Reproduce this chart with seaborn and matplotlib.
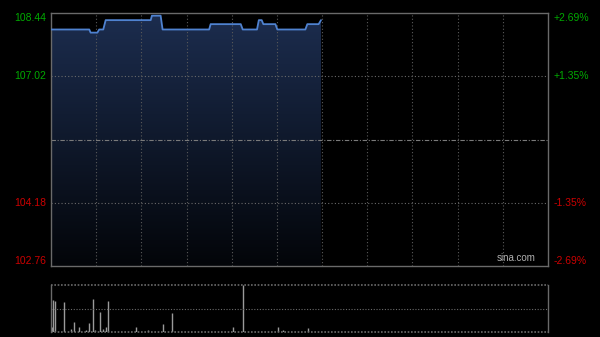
import numpy as np
import pandas as pd
import matplotlib
matplotlib.use("Agg")
import matplotlib.pyplot as plt
import seaborn as sns
from matplotlib.colors import LinearSegmentedColormap

# ---- data ----
prev_close = 105.60
y_ticks = [102.76, 104.18, 107.02, 108.44]
y_labels = ["102.76", "104.18", "107.02", "108.44"]
pct_labels = ["-2.69%", "-1.35%", "+1.35%", "+2.69%"]
tick_colors = ["#cc0000", "#cc0000", "#00aa00", "#00aa00"]

price_t = [0, 25.4, 26.3, 30.8, 32, 34.7, 36.3, 66.2, 67, 72.8, 74.1, 105, 106, 126,
           127.3, 136.8, 138, 139.9, 141, 149, 150.3, 168.9, 170.2, 177.7, 179.3]
price_v = [108.07, 108.07, 108.0, 108.0, 108.07, 108.07, 108.28, 108.28, 108.38, 108.38,
           108.07, 108.07, 108.19, 108.19, 108.07, 108.07, 108.28, 108.28, 108.19, 108.19,
           108.07, 108.07, 108.19, 108.19, 108.28]

vol_t = [0.4, 1.5, 2.9, 8.6, 13.5, 15.5, 18.6, 23.2, 25.4, 27.7, 29.2, 32.7, 34.7, 36.7,
         38.0, 56.6, 64.6, 74.6, 80.3, 120.6, 127.7, 150.5, 154.2, 170.4]
vol_v = [0.10, 0.69, 0.67, 0.63, 0.07, 0.21, 0.11, 0.04, 0.20, 0.71, 0.04, 0.43, 0.06, 0.10,
         0.65, 0.10, 0.04, 0.16, 0.40, 0.11, 1.00, 0.11, 0.04, 0.08]

session_len = 330
grid_x = list(range(30, 330, 30))

# ---- figure ----
sns.set_style("dark")
plt.rcParams["font.family"] = ["Liberation Sans", "DejaVu Sans"]
fig = plt.figure(figsize=(6, 3.37), dpi=100, facecolor="black")
ax = fig.add_axes([0.085, 0.2107, 0.8283, 0.7507], facecolor="black")
axv = fig.add_axes([0.085, 0.0148, 0.8283, 0.1395], facecolor="black")

df = pd.DataFrame({"t": price_t, "p": price_v})
ymin, ymax = y_ticks[0], y_ticks[-1]

# gradient fill under line
poly = ax.fill_between(df["t"], df["p"], ymin, color="none", lw=0)
grad = np.linspace(1, 0, 256).reshape(-1, 1)
cmap = LinearSegmentedColormap.from_list("g", ["#030509", "#1c2d4f"])
im = ax.imshow(grad, cmap=cmap, aspect="auto", extent=[0, max(price_t), ymin, ymax],
               origin="upper", zorder=1)
im.set_clip_path(poly.get_paths()[0], transform=ax.transData)

sns.lineplot(data=df, x="t", y="p", ax=ax, color="#4f82d0", lw=1.3, zorder=3)

ax.set_xlim(0, session_len)
ax.set_ylim(ymin, ymax)

# grid lines
for gx in grid_x:
    ax.axvline(gx, color="#5a5a5a", lw=0.8, ls=(0, (1, 2)), zorder=2)
for gy in [y_ticks[1], y_ticks[2]]:
    ax.axhline(gy, color="#6a6a6a", lw=0.8, ls=(0, (1, 2)), zorder=2)
ax.axhline(prev_close, color="#7a7a7a", lw=0.8, ls=(0, (4, 1.5, 1, 1.5)), zorder=2)

valign = ["bottom", "center", "center", "top"]

ax.set_yticks(y_ticks)
ax.set_yticklabels(y_labels)
ax.set_xticks([])
ax.tick_params(axis="y", length=0, pad=3.5, labelsize=7.5)
for lab, c, va in zip(ax.get_yticklabels(), tick_colors, valign):
    lab.set_color(c)
    lab.set_va(va)
ax.set_xlabel("")
ax.set_ylabel("")
ax.grid(False)
for s in ax.spines.values():
    s.set_visible(True)
    s.set_color("#6a6a6a")
    s.set_linewidth(1.0)

axr = ax.twinx()
axr.set_ylim(ymin, ymax)
axr.set_yticks(y_ticks)
axr.set_yticklabels(pct_labels)
axr.tick_params(axis="y", length=0, pad=4, labelsize=7.5)
for lab, c, va in zip(axr.get_yticklabels(), tick_colors, valign):
    lab.set_color(c)
    lab.set_va(va)
axr.grid(False)
for s in axr.spines.values():
    s.set_visible(False)

ax.text(0.975, 0.012, "sina.com", transform=ax.transAxes, ha="right", va="bottom",
        color="#b0b0b0", fontsize=7, zorder=5)

# volume
axv.vlines(vol_t, 0, vol_v, color="#9a9a9a", lw=1.0)
axv.set_xlim(0, session_len)
axv.set_ylim(0, max(vol_v))
axv.set_xticks([])
axv.set_yticks([])
axv.grid(False)
axv.axhline(max(vol_v) / 2, color="#6a6a6a", lw=0.8, ls=(0, (1, 1.5)))
for k in ["top", "bottom"]:
    axv.spines[k].set_visible(False)
axv.axhline(max(vol_v), color="#6a6a6a", lw=1.2, ls=(0, (1, 1)), clip_on=False)
axv.axhline(0, color="#6a6a6a", lw=1.2, ls=(0, (1, 1)), clip_on=False)
for k in ["left", "right"]:
    axv.spines[k].set_color("#6a6a6a")
    axv.spines[k].set_linewidth(1.0)

fig.savefig("out.png", dpi=100, facecolor="black")
